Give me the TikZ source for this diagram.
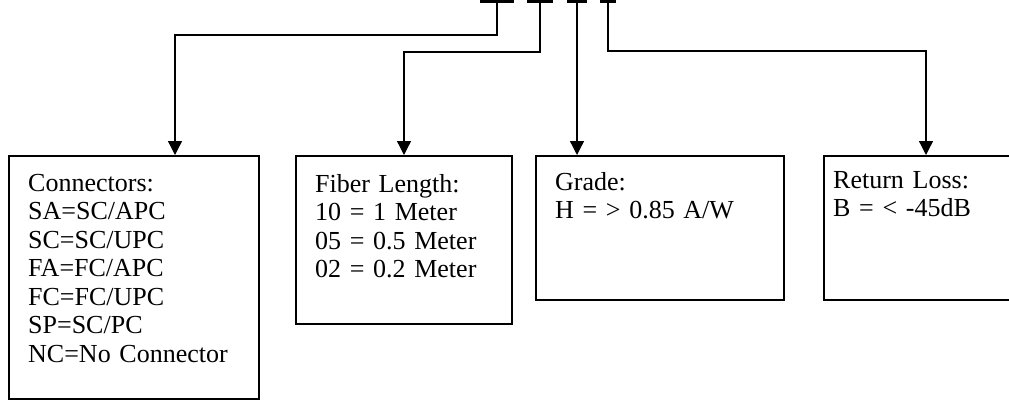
\documentclass[tikz,border=0pt]{standalone}
\usepackage{fontspec}
\setmainfont{Liberation Serif}
\usetikzlibrary{arrows.meta}
\begin{document}
\begin{tikzpicture}[x=1pt,y=-1pt,
  box/.style={draw, line width=1.7pt, inner sep=0pt, anchor=north west},
  lbl/.style={anchor=base west, inner sep=0pt, text width=240pt, align=left, font=\fontsize{26}{28.5}\selectfont},
  conn/.style={line width=1.3pt, -{Triangle[length=14pt,width=14pt]}},
  bar/.style={fill=black, inner sep=0pt, minimum height=2.6pt}]
\clip (0,0) rectangle (1009,400);
% boxes
\node[box, minimum width=250pt, minimum height=243pt] (b1) at (8,155) {};
\node[box, minimum width=216pt, minimum height=168pt] (b2) at (295,155) {};
\node[box, minimum width=248pt, minimum height=144pt] (b3) at (535,155) {};
\node[box, minimum width=230pt, minimum height=144pt] (b4) at (823,155) {};
% texts
\node[lbl] (t1) at (28,191) {Connectors:\\SA=SC/APC\\SC=SC/UPC\\FA=FC/APC\\FC=FC/UPC\\SP=SC/PC\\NC=No Connector};
\node[lbl] (t2) at (315,192) {Fiber Length:\\10 = 1 Meter\\05 = 0.5 Meter\\02 = 0.2 Meter};
\node[lbl] (t3) at (555,190) {Grade:\\H = > 0.85 A/W};
\node[lbl] (t4) at (833,188) {Return Loss:\\B = < -45dB};
% top bars
\node[bar, minimum width=34pt] (k1) at (497,1.3) {};
\node[bar, minimum width=26pt] (k2) at (540,1.3) {};
\node[bar, minimum width=20pt] (k3) at (577,1.3) {};
\node[bar, minimum width=16pt] (k4) at (608,1.3) {};
% corner coordinates
\coordinate (j1) at (497,35);
\coordinate (j2) at (540,52);
\coordinate (j4) at (608,51);
\coordinate (a1) at (175,155);
\coordinate (a2) at (404,155);
\coordinate (a3) at (577,155);
\coordinate (a4) at (926,155);
% connectors
\draw[conn] (k1.center) -- (j1) -| (a1);
\draw[conn] (k2.center) -- (j2) -| (a2);
\draw[conn] (k3.center) -- (a3);
\draw[conn] (k4.center) -- (j4) -| (a4);
\end{tikzpicture}
\end{document}
